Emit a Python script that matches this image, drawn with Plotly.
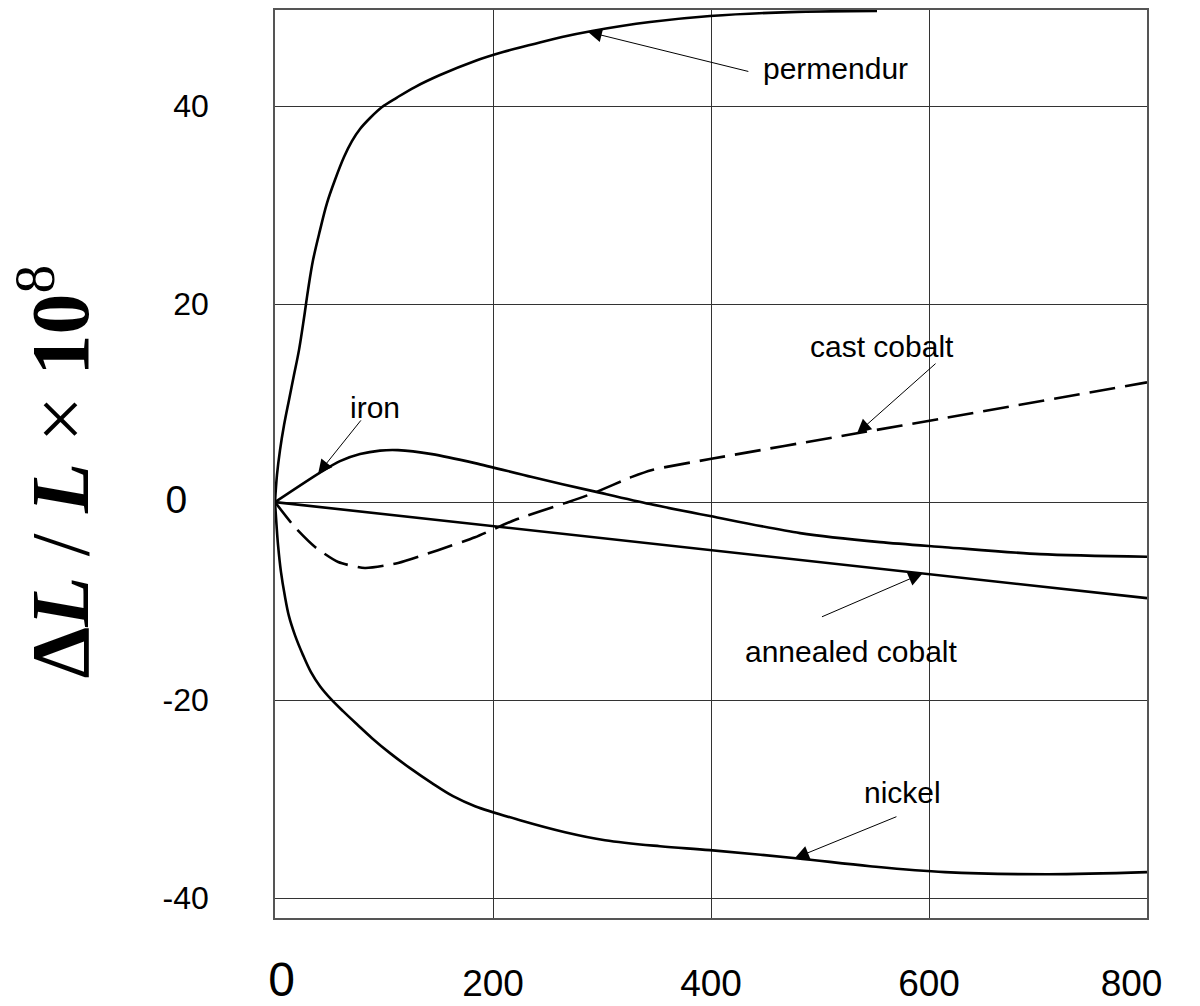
import numpy as np
import plotly.graph_objects as go

# ---------------- data ----------------
permendur_x = [0, 1.8, 4.6, 8.3, 12.8, 17.4, 22.0, 26.6, 30.3, 34.9, 41.3, 47.7, 55.0, 63.3, 70.6, 78.0,
               87.2, 98.2, 111.9, 128.4, 151.4, 183.5, 209.2, 235.8, 263.3, 290.8, 344.0, 399.1, 472.5, 552.3]
permendur_y = [0, 2.73, 5.25, 7.78, 10.30, 12.83, 15.35, 18.59, 21.41, 24.44, 27.47, 30.20, 32.53, 34.85,
               36.46, 37.68, 38.79, 39.90, 40.86, 41.92, 43.13, 44.55, 45.45, 46.21, 46.97, 47.58, 48.48,
               49.09, 49.49, 49.60]

iron_x = [0, 41.3, 59.6, 78.0, 96.3, 112.8, 144.0, 183.5, 235.8, 291.7, 344.0, 399.1, 481.7, 555.0,
          614.7, 701.8, 800]
iron_y = [0, 2.98, 4.14, 4.85, 5.20, 5.25, 4.85, 3.94, 2.53, 1.11, -0.20, -1.41, -3.13, -4.04,
          -4.55, -5.25, -5.51]

cast_cobalt_x = [0, 18, 37, 58, 82.5, 113, 149.5, 183.5, 220, 266, 292, 327.5, 346, 399, 534, 615, 800]
cast_cobalt_y = [0, -2.5, -4.55, -6.05, -6.65, -6.15, -4.85, -3.55, -1.8, -0.1, 0.9, 2.55, 3.25, 4.35, 6.95, 8.5, 12.1]

annealed_cobalt_x = [0, 800]
annealed_cobalt_y = [0, -9.7]

nickel_x = [0, 1.4, 2.8, 5.5, 8.9, 12.8, 18.3, 25.7, 33.0, 41.3, 51.4, 62.4, 76.1, 89.0, 105.5, 123.9,
            144.0, 163.3, 183.5, 224.8, 266.1, 302.8, 353.2, 399.1, 478.0, 545.9, 614.7, 709.2, 800]
nickel_y = [0, -2.32, -4.34, -7.07, -9.39, -11.52, -13.43, -15.45, -17.17, -18.59, -19.90, -21.11,
            -22.53, -23.84, -25.35, -26.87, -28.38, -29.70, -30.71, -32.12, -33.33, -34.14, -34.75,
            -35.15, -35.96, -36.77, -37.37, -37.58, -37.37]

x_tick_vals = [0, 200, 400, 600, 800]
x_tick_text = ['<span style="font-size:48px">\u00a00</span>', '200', '400', '600',
               '800' + '\u00a0' * 3]
y_tick_vals = [40, 20, 0, -20, -40]
y_tick_text = ['40', '20', '<span style="font-size:39px">0\u00a0\u00a0</span>', '-20', '-40']

curve_labels = ['permendur', 'cast cobalt', 'iron', 'annealed cobalt', 'nickel']

# ---------------- figure ----------------
fig = go.Figure()
line_style = dict(color='black', width=2.6)

fig.add_trace(go.Scatter(x=permendur_x, y=permendur_y, mode='lines',
                         line=dict(**line_style, shape='spline', smoothing=1.0), name='permendur'))
fig.add_trace(go.Scatter(x=iron_x, y=iron_y, mode='lines',
                         line=dict(**line_style, shape='spline', smoothing=0.8), name='iron'))
fig.add_trace(go.Scatter(x=cast_cobalt_x, y=cast_cobalt_y, mode='lines',
                         line=dict(**line_style, shape='spline', smoothing=0.6, dash='26px,10px'),
                         name='cast cobalt'))
fig.add_trace(go.Scatter(x=annealed_cobalt_x, y=annealed_cobalt_y, mode='lines',
                         line=line_style, name='annealed cobalt'))
fig.add_trace(go.Scatter(x=nickel_x, y=nickel_y, mode='lines',
                         line=dict(**line_style, shape='spline', smoothing=1.0), name='nickel'))

# arrow tips sit on the curves
tips = [
    (287, float(np.interp(287, permendur_x, permendur_y))),
    (534, float(np.interp(534, cast_cobalt_x, cast_cobalt_y))),
    (39.5, float(np.interp(39.5, iron_x, iron_y))),
    (594, float(np.interp(594, annealed_cobalt_x, annealed_cobalt_y))),
    (477, float(np.interp(477, nickel_x, nickel_y))),
]
tails = [(162, 40), (80, -71), (44, -55), (-102, 44), (103, -42)]
label_pos = [(514, 43.8), (557, 15.7), (92, 9.6), (529, -15.05), (576, -29.3)]

anns = []
for name, (tx, ty), (ax, ay), (lx, ly) in zip(curve_labels, tips, tails, label_pos):
    anns.append(dict(x=tx, y=ty, xref='x', yref='y', text='', showarrow=True,
                     ax=ax, ay=ay, arrowhead=2, arrowsize=2.8, arrowwidth=1,
                     arrowcolor='black', standoff=0, startstandoff=0))
    anns.append(dict(x=lx, y=ly, xref='x', yref='y', text=name, showarrow=False,
                     font=dict(family='Liberation Sans, Arial', size=30, color='black'),
                     xanchor='center', yanchor='middle'))

anns.append(dict(
    x=-0.2534, y=0.491, xref='paper', yref='paper', showarrow=False, textangle=-90,
    text='<b>\u0394<i>L</i></b> / <b><i>L</i></b> \u00d7 <b>10</b><sup>8</sup>',
    font=dict(family='Liberation Serif, Times New Roman', size=82, color='black'),
    xanchor='center', yanchor='middle'))

fig.update_layout(
    width=1200, height=1006,
    margin=dict(l=275, r=53, t=10, b=88, autoexpand=False),
    plot_bgcolor='white', paper_bgcolor='white',
    showlegend=False,
    annotations=anns,
    xaxis=dict(range=[0, 800], tickvals=x_tick_vals, ticktext=x_tick_text,
               showgrid=True, gridcolor='#333', gridwidth=1, zeroline=False,
               showline=True, mirror=True, linecolor='#555', linewidth=1.5,
               ticks='', ticklabelstandoff=32, automargin=False, ticklabeloverflow='allow',
               tickfont=dict(family='Liberation Sans, Arial', size=37, color='black')),
    yaxis=dict(range=[-42.0, 49.7], tickvals=y_tick_vals, ticktext=y_tick_text,
               showgrid=True, gridcolor='#333', gridwidth=1, zeroline=False,
               showline=True, mirror=True, linecolor='#555', linewidth=1.5,
               ticks='', ticklabelstandoff=58, automargin=False,
               tickfont=dict(family='Liberation Sans, Arial', size=32, color='black')),
)

fig.write_html("out.html", config={'displayModeBar': False},
               post_script="document.body.style.margin='0';")
